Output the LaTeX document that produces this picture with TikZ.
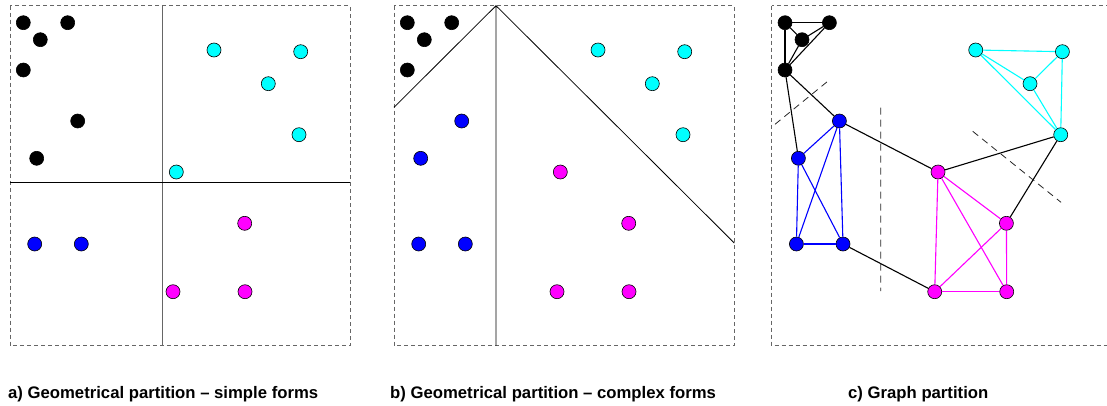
\documentclass[tikz,border=0pt]{standalone}
\usepackage{fontspec}
\setmainfont{Liberation Sans}
\usepackage{tikz}
\definecolor{pcyan}{RGB}{0,255,255}
\definecolor{pmagenta}{RGB}{255,0,255}
\definecolor{pblue}{RGB}{0,0,255}

\newcommand\pointlist{1/13.3/17/black/black,2/57.7/17/black/black,3/30.3/34/black/black,4/13.3/64.3/black/black,
5/67.7/115.3/black/pblue,6/26.7/152.6/black/pblue,7/204/44.3/pcyan/pcyan,8/290.7/46/pcyan/pcyan,
9/258.3/78/pcyan/pcyan,10/289/129/pcyan/pcyan,11/166.3/166.3/pcyan/pmagenta,12/24.7/238.3/pblue/pblue,
13/71.3/238.3/pblue/pblue,14/234.7/217.6/pmagenta/pmagenta,15/163/286/pmagenta/pmagenta,16/235/286/pmagenta/pmagenta}

\begin{document}
\begin{tikzpicture}[x=1pt,y=-1pt,
dot/.style={shape=circle,draw,line width=0.6pt,inner sep=0pt,minimum size=14pt},
frame/.style={draw=black!60,line width=0.8pt,dash pattern=on 4pt off 3pt},
cut/.style={draw=black!85,line width=0.8pt,dash pattern=on 7pt off 5pt},
edge/.style={line width=1.1pt},
caption/.style={anchor=base west,inner sep=0pt,font=\bfseries\fontsize{16.7}{20}\selectfont}]
\useasboundingbox (0,0) rectangle (1107,405);

\begin{scope}[shift={(10,5.7)},name prefix=a]
\draw[frame](0,0)rectangle(340,340);
\draw[black!60,line width=0.9pt](152.7,0)--(152.7,340);
\draw[line width=0.8pt](0,177)--(340,177);
\foreach \i/\x/\y/\ca/\cb in \pointlist \node[dot,fill=\ca] (p\i) at (\x,\y) {};
\end{scope}

\begin{scope}[shift={(394,5.7)},name prefix=b]
\draw[frame](0,0)rectangle(340,340);
\draw[line width=0.8pt](0,101.6)--(102,0)--(340.3,237.3) (102,0)--(102,340);
\foreach \i/\x/\y/\ca/\cb in \pointlist \node[dot,fill=\cb] (p\i) at (\x,\y) {};
\end{scope}

\begin{scope}[shift={(771.7,5.7)},name prefix=c]
\draw[frame](0,0)rectangle(340,340);
\foreach \i/\x/\y/\ca/\cb in \pointlist \node[dot,fill=\cb] (p\i) at (\x,\y) {};
\foreach \u/\v in {1/2,1/3,1/4,2/3,2/4,3/4} \draw[edge](cp\u)--(cp\v);
\foreach \u/\v in {5/6,5/12,5/13,6/12,6/13,12/13} \draw[edge,pblue](cp\u)--(cp\v);
\foreach \u/\v in {7/8,7/9,7/10,8/9,8/10,9/10} \draw[edge,pcyan](cp\u)--(cp\v);
\foreach \u/\v in {11/14,11/15,11/16,14/15,14/16,15/16} \draw[edge,pmagenta](cp\u)--(cp\v);
\foreach \u/\v in {4/5,4/6,5/11,13/15,11/10,10/14} \draw[edge](cp\u)--(cp\v);
\draw[cut](3.3,118.6)--(57.6,74.3) (109,102)--(109,285.3) (201,125.6)--(289.3,196.6);
\end{scope}

\node[caption] (capa) at (8,398) {a) Geometrical partition -- simple forms};
\node[caption] (capb) at (390,398) {b) Geometrical partition -- complex forms};
\node[caption] (capc) at (848,398) {c) Graph partition};
\end{tikzpicture}
\end{document}
